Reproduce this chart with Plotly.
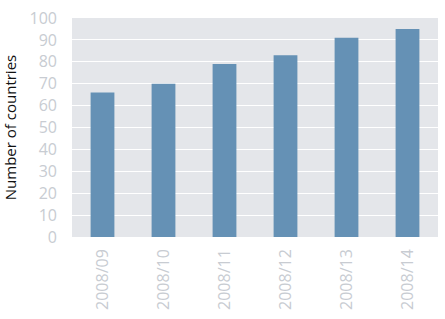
import plotly.graph_objects as go

categories = ["2008/09", "2008/10", "2008/11", "2008/12", "2008/13", "2008/14"]
values = [66, 70, 79, 83, 91, 95]
y_ticks = [0, 10, 20, 30, 40, 50, 60, 70, 80, 90, 100]

fig = go.Figure(go.Bar(x=categories, y=values, marker_color="#6591b5",
                       marker_line_width=0, width=0.39))
fig.update_layout(
    width=445, height=319,
    margin=dict(l=72, r=7, t=14, b=82),
    plot_bgcolor="#e4e6ea", paper_bgcolor="white",
    font=dict(family="Open Sans", size=14, color="#c8ccd2"),
    showlegend=False,
    bargap=0.6,
)
fig.update_xaxes(tickangle=-90, showgrid=False, ticks="", ticklabelstandoff=8,
                 tickfont=dict(size=16, color="#c8ccd2"))
fig.update_yaxes(range=[0, 100], tickvals=y_ticks, gridcolor="white", gridwidth=1.3,
                 zeroline=False, ticks="", ticklabelstandoff=14,
                 tickfont=dict(size=16, color="#c8ccd2"),
                 title=dict(text="Number of countries", font=dict(size=15, color="#111111"), standoff=10))
fig.write_html("out.html")
